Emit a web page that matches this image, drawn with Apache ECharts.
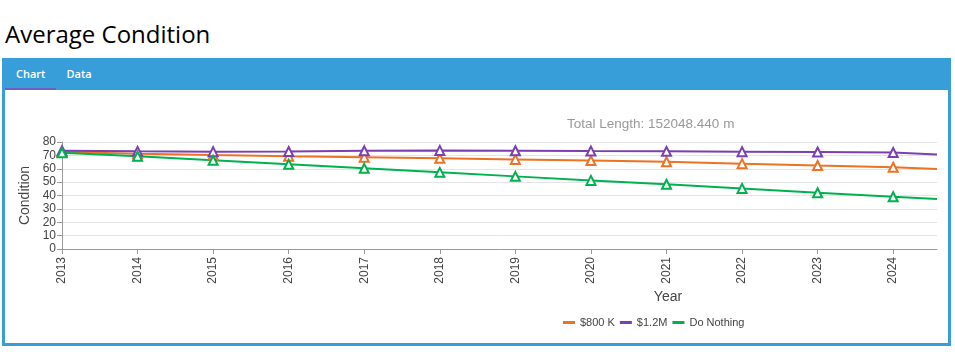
<html lang="en">
<head>
	<meta charset="UTF-8">
	<script src="https://cdn.jsdelivr.net/npm/echarts@6/dist/echarts.min.js"></script>
	<title>Average Condition</title>
</head>
<body>
<h1 id="ttl">Average Condition</h1>
<div id="box">
	<div id="bar"><span class="tab on">Chart</span><span class="tab">Data</span></div>
</div>
<div id="pic"></div>
</body>
<style>
	body
	{
		margin:0;
		width:955px;
		height:352px;
		background:#fff;
		position:relative;
		overflow:hidden;
		font-family:"Open Sans",sans-serif;
	}

	#ttl
	{
		position:absolute;
		left:5px;
		top:17px;
		margin:0;
		font-size:24px;
		font-weight:normal;
		color:#000;
	}

	#box
	{
		position:absolute;
		left:2px;
		top:58px;
		width:943px;
		height:285px;
		border:3px solid #389ed9;
		border-top:0;
	}

	#bar
	{
		height:32px;
		background:#389ed9;
		margin:0 -3px;
		position:relative;
	}

	.tab
	{
		display:inline-block;
		color:#fff;
		font-size:11px;
		font-weight:600;
		line-height:32px;
		height:30px;
		padding:0 10px;
	}

	.tab.on
	{
		margin-left:3px;
		padding:0 11px 0 11px;
		border-bottom:2px solid #6b5fc8;
	}

	#pic
	{
		position:absolute;
		left:0;
		top:0;
		width:955px;
		height:352px;
	}
</style>
<script>
	"use strict";

	const years=[2013,2014,2015,2016,2017,2018,2019,2020,2021,2022,2023,2024,2024.58];
	const names=["$800 K","$1.2M","Do Nothing"];
	const colors=["#ec7224","#7a3fb0","#00b150"];
	const k800=[72.5,71.3,70.2,69.3,68.6,67.8,67.0,66.1,65.2,63.8,62.4,61.1,59.9];
	const m12=[73.5,73.0,72.8,72.9,73.4,73.7,73.5,73.2,73.0,72.8,72.5,72.1,70.6];
	const none=[72.0,69.3,66.3,63.3,60.3,57.3,54.3,51.3,48.4,45.3,42.1,39.1,37.3];
	const total="Total Length: 152048.440 m";

	function pts(v)
	{
		let r=[];
		for(let i=0; i<years.length; i++)
		{
			let p={value:[years[i],v[i]]};
			if(!Number.isInteger(years[i]))
			{p.symbol="none";}
			r.push(p);
		}
		return r;
	}

	let pic=echarts.init(document.getElementById("pic"));
	let lab={fontFamily:"Liberation Sans",fontSize:12,color:"#444"};
	let option=
		{
			animation:false,
			color:colors,
			title:{
				text:total,left:562,top:112,
				textStyle:{fontFamily:"Liberation Sans",fontSize:13.5,fontWeight:"normal",color:"#999"}
			},
			legend:{
				data:names.map((n,i)=>({name:n,itemStyle:{color:colors[i],borderWidth:0}})),
				left:558,top:312,
				icon:"rect",itemWidth:12,itemHeight:3,itemGap:5,
				textStyle:{fontFamily:"Liberation Sans",fontSize:11,color:"#444"}
			},
			grid:{left:62,top:142,width:875,height:107,outerBoundsMode:"none"},
			xAxis:{
				type:"value",min:2013,max:2024.58,interval:1,
				name:"Year",nameLocation:"middle",nameGap:41,
				nameTextStyle:{fontFamily:"Liberation Sans",fontSize:14,color:"#444",padding:[0,0,0,337]},
				axisLine:{lineStyle:{color:"#999"}},
				axisTick:{lineStyle:{color:"#999"}},
				splitLine:{show:false},
				axisLabel:Object.assign({rotate:90,showMaxLabel:false,formatter:v=>Number.isInteger(v)?String(v):""},lab)
			},
			yAxis:{
				type:"value",min:0,max:80,interval:10,
				name:"Condition",nameLocation:"middle",nameGap:28,
				nameTextStyle:{fontFamily:"Liberation Sans",fontSize:14,color:"#444"},
				axisLine:{show:true,lineStyle:{color:"#999"}},
				axisTick:{show:true,lineStyle:{color:"#999"}},
				splitLine:{lineStyle:{color:"#e4e4e4"}},
				axisLabel:Object.assign({margin:6},lab)
			},
			series:[k800,m12,none].map((v,i)=>({
				name:names[i],
				type:"line",
				data:pts(v),
				symbol:"triangle",
				symbolSize:9,
				lineStyle:{width:2,color:colors[i]},
				itemStyle:{color:"#fff",borderColor:colors[i],borderWidth:2}
			}))
		};
	pic.setOption(option);
</script>
</html>
